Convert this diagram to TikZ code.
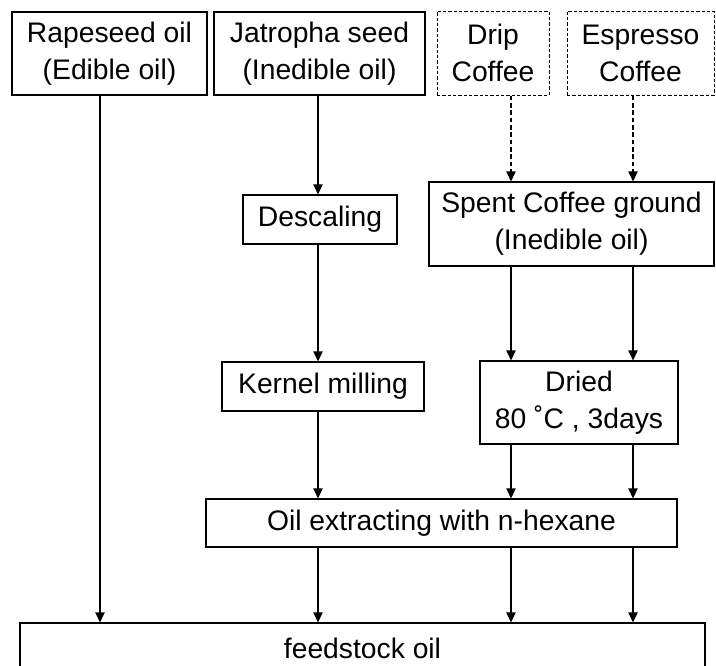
\documentclass[tikz,border=0pt]{standalone}
\usepackage{fontspec}
\setmainfont{Liberation Sans}
\usetikzlibrary{arrows.meta}
\begin{document}
\begin{tikzpicture}[x=0.75pt,y=-0.75pt,
  box/.style={draw, line width=0.9pt, inner sep=0pt, align=center,
    font=\fontsize{21.2pt}{27.75pt}\selectfont},
  dbox/.style={box, line width=0.75pt, dash pattern=on 2.5pt off 1.5pt},
  arr/.style={line width=0.9pt, -{Triangle[length=7.5pt,width=7pt]}},
  darr/.style={arr, dash pattern=on 3.5pt off 2pt}]
\useasboundingbox (0,0) rectangle (716,665);
\clip (0,0) rectangle (716,665);
% columns
\coordinate (c1) at (100,0);
\coordinate (c2) at (318,0);
\coordinate (c3) at (511,0);
\coordinate (c4) at (633,0);
% nodes
\node[box, minimum width=146.25pt, minimum height=62.25pt] (rape) at (109.5,53.5) {Rapeseed oil\\(Edible oil)};
\node[box, minimum width=158.25pt, minimum height=62.25pt] (jat) at (319.5,53.5) {Jatropha seed\\(Inedible oil)};
\node[dbox, minimum width=84pt, minimum height=63pt] (drip) at (493,53) {Drip\\Coffee};
\node[dbox, minimum width=110.25pt, minimum height=63pt] (esp) at (640.5,53) {Espresso\\Coffee};
\node[box, minimum width=213.75pt, minimum height=63pt] (scg) at (571.5,224) {Spent Coffee ground\\(Inedible oil)};
\node[box, minimum width=115.5pt, minimum height=36.75pt] (desc) at (320,219.5) {Descaling};
\node[box, minimum width=151.5pt, minimum height=36.75pt] (kern) at (323,386.5) {Kernel milling};
\node[box, minimum width=148.5pt, minimum height=62.25pt] (dried) at (579,402.5) {Dried\\80 ˚C , 3days};
\node[box, minimum width=353.25pt, minimum height=36pt] (oil) at (441.5,523) {Oil extracting with n-hexane};
\node[box, minimum width=513.75pt, minimum height=37.5pt] (feed) at (362.5,648) {feedstock oil};
% connectors
\draw[arr] (rape.south -| c1) -- (feed.north -| c1);
\draw[arr] (jat.south -| c2) -- (desc.north -| c2);
\draw[arr] (desc.south -| c2) -- (kern.north -| c2);
\draw[arr] (kern.south -| c2) -- (oil.north -| c2);
\draw[darr] (drip.south -| c3) -- (scg.north -| c3);
\draw[darr] (esp.south -| c4) -- (scg.north -| c4);
\draw[arr] (scg.south -| c3) -- (dried.north -| c3);
\draw[arr] (scg.south -| c4) -- (dried.north -| c4);
\draw[arr] (dried.south -| c3) -- (oil.north -| c3);
\draw[arr] (dried.south -| c4) -- (oil.north -| c4);
\draw[arr] (oil.south -| c2) -- (feed.north -| c2);
\draw[arr] (oil.south -| c3) -- (feed.north -| c3);
\draw[arr] (oil.south -| c4) -- (feed.north -| c4);
\end{tikzpicture}
\end{document}
